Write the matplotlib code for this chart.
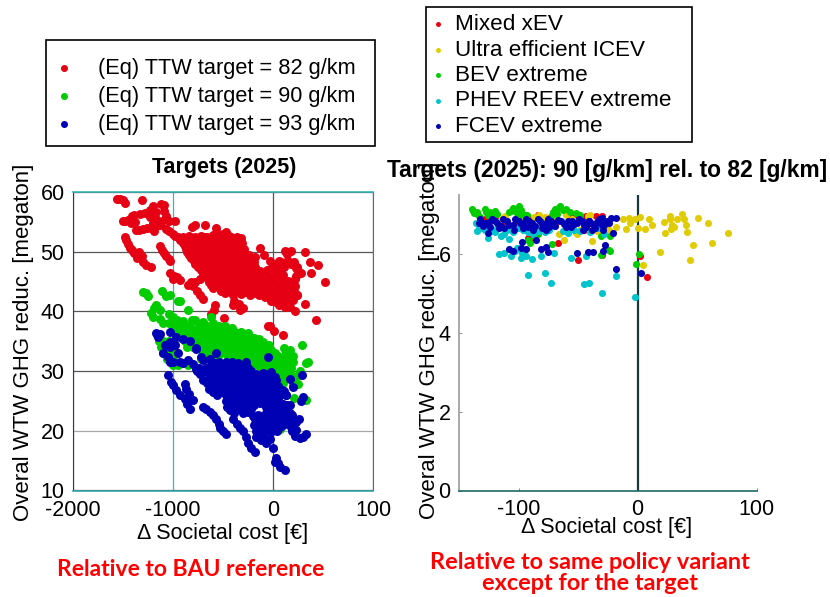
import numpy as np
import matplotlib
matplotlib.use('Agg')
import matplotlib.pyplot as plt
from matplotlib.patches import Rectangle

plt.rcParams['font.family'] = ['Liberation Sans', 'DejaVu Sans']
plt.rcParams['axes.unicode_minus'] = False

W, H = 830, 597

# left panel: (societal cost, ghg reduction)
pts_82 = [
    (-1560,58.8),(-1530,58.8),(-1500,58.6),(-1480,58.2),(-1310,58.7),(-1200,57.6),(-1120,58),(-1090,57.8),(-1090,56.8),
    (-1070,56),(-1170,56.7),(-1230,57),(-1280,56.5),(-1330,56.3),(-1390,56.2),(-1410,56),(-1480,55.2),(-1500,55.2),
    (-1450,55.3),(-1420,54.8),(-1380,55),(-1230,55.8),(-1170,55.5),(-1110,55.2),(-1040,55.2),(-980,55.2),(-1200,54.8),
    (-1170,54.3),(-1130,54.5),(-1070,53.8),(-1040,53.5),(-1300,53.8),(-1260,53.9),(-1220,53.9),(-1190,53.5),(-1370,53.6),
    (-1340,53.7),(-1000,53),(-980,52.6),(-950,52.4),(-900,52.3),(-1480,52.5),(-1470,52),(-1450,51.3),(-1430,50.6),
    (-1410,50.3),(-1390,49.7),(-1360,49),(-1320,49),(-1300,48.3),(-1270,47.7),(-1220,47.5),(-1130,51),(-1110,50.3),
    (-1090,49.8),(-1070,49.3),(-1040,48.7),(-1030,48.5),(-1340,49.9),(-1310,49.2),(-1030,46.5),(-990,46),(-960,45.8),
    (-930,45.2),(-1000,45.5),(-850,44.5),(-800,44.2),(-760,43.5),(-730,42.8),(-700,42),(-820,45),(-780,45),(-730,45.5),
    (-783,54.4),(-683,54.4),(-810,54.2),(-567,53.9),(-467,53.3),(-317,52.3),(-560,53.2),(-500,52.9),(-440,52.6),
    (-930,52),(-860,51.8),(-800,52.2),(-740,52.1),(-680,52.4),(-620,52),(-560,52.3),(-500,51.9),(-440,52.2),(-380,51.8),(-330,51.9),
    (-880,51),(-820,50.8),(-760,51.2),(-700,50.9),(-640,51.1),(-580,50.8),(-520,51.2),(-460,50.9),(-400,51.1),(-340,50.8),
    (-860,49.9),(-800,50.1),(-740,49.8),(-680,50.2),(-620,49.9),(-560,50.1),(-500,49.8),(-440,50.2),(-380,49.9),(-320,50),(-270,49.6),
    (-820,49),(-760,48.8),(-700,49.2),(-640,48.9),(-580,49.1),(-520,48.8),(-460,49.2),(-400,48.9),(-340,49.1),(-280,48.8),(-210,48.6),
    (-780,48),(-720,48.2),(-660,47.8),(-600,48.1),(-540,47.9),(-480,48.2),(-420,47.8),(-360,48.1),(-300,47.9),(-240,48),(-180,47.4),
    (-720,47),(-660,46.8),(-600,47.2),(-540,46.9),(-480,47.1),(-420,46.8),(-360,47.2),(-300,46.9),(-240,47.1),(-190,46.5),(-130,46.8),
    (-680,46),(-620,46.2),(-560,45.8),(-500,46.1),(-440,45.9),(-380,46.2),(-320,45.8),(-250,45.2),(-160,45.5),(-100,45.2),
    (-640,45),(-580,45.2),(-520,44.8),(-460,45.1),(-400,44.8),(-340,45),(-250,44.4),(-200,44.8),(-150,44.4),(-100,44.2),(-50,43.9),
    (-600,44),(-540,44.2),(-500,43.9),(-430,44.2),(-370,43.9),(-300,43.5),(-240,44),(-180,43.8),(-120,43.3),(-60,43.2),(0,43.4),
    (-480,43),(-400,42.8),(-320,42.9),(-200,43),(-140,42.7),(-80,42.4),(-20,42.6),(40,42.5),(100,42.3),
    (-30,48.4),(30,48),(80,48.2),(130,48.2),(180,47.9),(240,47.4),(-60,47),(0,47.3),(50,47),(230,47.2),(250,46.8),
    (-40,46),(20,46.2),(60,46.3),(100,46.1),(230,46),(280,46.5),(-30,45),(30,45.4),(80,45),(150,45.1),(220,45.4),
    (30,44),(90,44.2),(170,44.1),(220,44.3),(60,43.1),(120,43.1),(190,43.2),(240,42.8),(-20,41.8),(30,41.5),(100,41.3),
    (160,42),(200,41.9),(60,41),(120,40.7),(170,40.8),(223,40),(320,41.3),(243,42.8),
    (-390,41.8),(-340,41.2),(-300,40.5),(-400,41),(-330,40.2),(-230,42.8),
    (523,44.9),(450,47.7),(377,46.4),(367,48.3),(317,49.9),(117,50.2),(135,49.6),(183,50.1),(150,50),(-127,50.7),(-90,49.4),
    (-580,41),(-590,40.3),(-620,39.5),(-490,38.9),(-50,37.5),(-30,37.5),(10,36.7),(100,36),(433,38.6),
]
pts_82_dense = [
    (-900,52.5),(-840,52.6),(-780,52.4),(-720,52.7),(-660,52.5),(-600,52.8),(-540,52.5),(-480,52.6),(-420,52.4),(-360,52.5),
    (-900,51.5),(-850,51.6),(-790,51.5),(-730,51.4),(-670,51.6),(-610,51.5),(-550,51.6),(-490,51.4),(-430,51.6),(-370,51.4),(-310,51.5),
    (-870,50.5),(-830,50.4),(-770,50.6),(-710,50.4),(-650,50.6),(-590,50.5),(-530,50.4),(-470,50.6),(-410,50.4),(-350,50.5),(-290,50.4),
    (-840,49.5),(-780,49.4),(-720,49.6),(-660,49.4),(-600,49.6),(-540,49.5),(-480,49.4),(-420,49.6),(-360,49.4),(-300,49.5),(-240,49.5),(-180,49.1),
    (-790,48.5),(-730,48.6),(-670,48.4),(-610,48.6),(-550,48.4),(-490,48.5),(-430,48.6),(-370,48.4),(-310,48.6),(-250,48.4),(-190,48.3),
    (-750,47.5),(-690,47.4),(-630,47.6),(-570,47.4),(-510,47.6),(-450,47.5),(-390,47.4),(-330,47.6),(-270,47.4),(-210,47.5),
    (-700,46.5),(-640,46.4),(-580,46.6),(-520,46.4),(-460,46.6),(-400,46.5),(-340,46.4),(-280,46.6),(-220,46.4),(-160,46.2),(-100,46.4),
    (-650,45.5),(-590,45.6),(-530,45.4),(-470,45.6),(-410,45.4),(-350,45.5),(-290,45.6),(-230,45.5),(-120,44.9),(-70,44.6),
    (-620,44.5),(-560,44.6),(-480,44.5),(-420,44.6),(-360,44.4),(-300,44.6),(-220,44.3),(-130,43.9),(-80,43.8),(-30,43.6),
    (-520,43.5),(-450,43.6),(-380,43.4),(-280,43.2),(-160,43.3),(-90,43.1),(-30,42.9),(30,43),
    (-10,47.5),(40,47.5),(60,48.5),(110,47.5),(150,48.5),(210,48.3),(-20,45.5),(40,44.8),(120,44.5),(190,44.7),
    (30,43),(150,43.5),(210,43.5),(70,42.2),(130,41.8),
]
pts_90 = [
    (-1300,43.2),(-1270,43),(-1250,42.6),(-1110,43.4),(-1030,42.7),(-1070,42.5),(-950,41.8),(-930,41.7),(-1170,41.1),
    (-1190,40.5),(-1130,40.3),(-1220,39.7),(-1200,39),(-1130,38.7),(-1100,38),(-1040,39.5),(-1000,39),(-960,38.5),
    (-900,38.4),(-850,40.3),(-810,38.5),(-1040,38),(-780,38.5),(-620,39),(-700,38.2),
    (-1000,37),(-940,37.2),(-880,36.9),(-820,37.2),(-760,36.9),(-700,37.2),(-640,37),(-580,37.3),(-520,37),(-460,37.2),(-410,37.3),
    (-1160,36),(-960,36),(-900,36.2),(-840,35.9),(-780,36.1),(-720,35.9),(-660,36.2),(-600,35.9),(-540,36.1),(-480,35.9),(-420,36.1),(-360,35.9),(-300,36.1),(-240,35.8),(-190,35.6),
    (-1140,35),(-1100,35),(-1040,35.1),(-880,35),(-820,35.2),(-760,34.9),(-700,35.1),(-640,34.9),(-580,35.1),(-520,34.9),(-460,35.1),(-400,34.9),(-340,35.1),(-280,34.9),(-220,35.1),(-160,35),(-100,34.9),
    (-1120,34),(-1080,34),(-1020,34.1),(-860,34),(-800,34.1),(-740,33.9),(-680,34.1),(-620,33.9),(-560,34.1),(-500,33.9),(-440,34.1),(-380,33.9),(-320,34.1),(-260,33.9),(-200,34.1),(-140,34),(-40,34.3),
    (-1100,33),(-1040,33),(-980,33),(-700,33),(-640,32.9),(-580,33.1),(-520,33),(-460,33.1),(-400,32.9),(-340,33.1),(-280,32.9),(-220,33.1),(-160,33),(-100,32.9),(-40,33.1),(20,33),(110,33.8),(130,33.2),(170,33.5),(200,32.6),(290,34.3),
    (-1060,32),(-1000,32),(-720,32),(-650,32),(-400,32),(-340,32.1),(-280,31.9),(-220,32.1),(-160,31.9),(-100,32),(-40,32),(30,32.1),(90,32.2),(150,31.9),
    (-1000,31),(-950,31),(-850,31),(-280,31),(-200,31.1),(-140,30.9),(-80,31),(-20,31.1),(40,30.9),(100,31),(160,31.1),(350,31.6),(330,31.4),(200,31.5),
    (-100,30),(-30,30),(30,30.1),(90,29.9),(150,30),(270,30),(20,29),(80,29.1),(140,28.9),(200,28.5),(100,28),(200,27.9),(250,27.9),
    (210,25.5),(330,25.2),(-210,24.3),(70,20.3),(-270,25),(-280,24),(0,21),
]
pts_90_dense = [
    (-960,37.5),(-860,37.6),(-740,37.5),(-680,37.7),(-600,38),(-540,37.5),(-480,37.6),
    (-980,36.5),(-920,36.6),(-860,36.4),(-800,36.6),(-740,36.4),(-680,36.6),(-620,36.5),(-560,36.6),(-500,36.4),(-440,36.6),(-380,36.5),(-320,36.5),(-250,36.3),
    (-920,35.5),(-860,35.6),(-800,35.4),(-740,35.6),(-680,35.4),(-620,35.6),(-560,35.5),(-500,35.4),(-440,35.6),(-380,35.4),(-320,35.6),(-260,35.4),(-200,35.6),(-140,35.4),
    (-1110,34.5),(-1060,34.5),(-840,34.6),(-780,34.4),(-720,34.6),(-660,34.4),(-600,34.6),(-540,34.5),(-480,34.4),(-420,34.6),(-360,34.4),(-300,34.6),(-240,34.4),(-180,34.6),(-120,34.4),(-70,34.2),
    (-1070,33.5),(-1000,33.5),(-680,33.6),(-620,33.4),(-560,33.6),(-500,33.5),(-440,33.4),(-380,33.6),(-320,33.4),(-260,33.6),(-200,33.4),(-140,33.6),(-80,33.5),(-20,33.6),
    (-650,32.5),(-550,32.5),(-450,32.5),(-370,32.6),(-310,32.4),(-250,32.6),(-190,32.4),(-130,32.6),(-70,32.4),(-10,32.5),(50,32.6),(110,32.4),
    (-250,31.5),(-170,31.5),(-110,31.5),(-50,31.4),(10,31.6),(70,31.5),(130,31.5),
    (-60,30.5),(0,30.5),(60,30.6),(120,30.4),(180,30.6),(0,29.5),(60,29.5),(120,29.6),(180,29.4),(240,29.2),
]
pts_93 = [
    (-1167,36.4),(-1133,36.2),(-1150,35.7),(-1033,36.5),(-967,35.7),(-1033,34.9),(-1083,34.3),(-900,35.4),(-833,35.1),(-767,33.7),
    (-1100,33),(-1033,34.1),(-983,34.4),(-950,33),(-1033,31.6),(-933,31.6),(-850,31.8),(-767,33.8),(-717,32.4),(-567,33.1),
    (-633,32.1),(-767,30.4),(-700,28.5),(-583,31.3),(-1050,32.4),(-1000,31.5),(-900,31.4),(-800,31.2),
    (-1050,29.3),(-1017,28.2),(-1000,27.6),(-967,26.8),(-933,26),(-883,25.4),(-833,23.7),(-860,24.5),(-883,27.9),(-870,27),(-840,26.2),(-800,25.1),
    (-700,24),(-670,23.7),(-633,23.2),(-600,22.6),(-567,22),(-540,21.2),(-533,20.4),(-500,20),(-467,19.4),(-400,22),(-360,21.2),(-330,20.5),(-300,20),(-270,19),(-250,17.9),(-220,17.2),(-183,16.5),
    (-167,19),(-120,18.4),(-67,17.9),(0,17.2),(33,15.4),(17,14.8),(50,14.6),(117,13.4),(67,14),
    (-620,31),(-560,31.1),(-500,30.9),(-440,31),(-390,31.2),(-330,30.9),(-270,31.5),
    (-760,30),(-700,30.1),(-640,29.9),(-580,30),(-520,30.2),(-460,29.9),(-400,30.1),(-340,29.9),(-280,30.1),(-220,30),
    (-620,29),(-560,29.1),(-500,28.9),(-440,29.1),(-380,28.9),(-320,29.1),(-260,28.9),(-200,29.1),(-130,29),(-70,29.2),(-10,29),
    (-660,28),(-600,28.1),(-540,27.9),(-480,28.1),(-420,27.9),(-360,28.1),(-300,27.9),(-240,28.1),(-180,27.9),(-120,28.1),(-60,27.9),
    (-640,27),(-580,27.1),(-520,26.9),(-460,27.1),(-400,26.9),(-340,27.1),(-280,26.9),(-220,27.1),(-160,26.9),(-100,27.1),(-40,27),(20,27.1),(90,26.9),
    (-560,26),(-470,26),(-410,26.1),(-350,25.9),(-290,26.1),(-230,25.9),(-170,26.1),(-110,25.9),(-50,26.1),(10,26),(70,26),(130,26),
    (-470,25),(-400,25.1),(-340,24.9),(-280,25.1),(-220,24.9),(-160,25.1),(-100,24.9),(-40,25.1),(20,24.8),
    (-460,24),(-400,24.1),(-340,23.9),(-280,24.1),(-70,24),(-20,24.2),(90,24),(120,23.8),(167,24.3),
    (-390,23),(-300,23),(-250,23.1),(-70,23),(-10,23.1),(50,22.9),(100,23.1),(170,23),
    (-180,22),(-130,22.1),(-70,21.9),(-10,22.1),(50,21.9),(100,22),(170,22.2),(260,22),
    (-190,21),(-130,21.1),(-70,20.9),(-10,21.1),(40,20.9),(100,21),(200,21),(180,20.6),
    (-170,20),(-110,20.1),(-60,19.9),(-10,20),(40,20),(190,20),(230,20.2),
    (-140,19),(-100,19.1),(-30,18.7),(220,19.2),(270,18.8),(300,18.9),(330,19.5),
    (167,28.6),(200,27.3),(290,29.3),(300,25.7),(283,25),(-50,32.3),(-17,29.9),(17,29),(133,26),
]
pts_93_dense = [
    (-700,31.8),(-540,31.6),(-470,31.5),(-410,31.6),(-350,31.4),
    (-740,30.5),(-670,30.6),(-610,30.4),(-550,30.6),(-490,30.5),(-430,30.4),(-370,30.6),(-310,30.4),(-250,30.5),
    (-730,29.5),(-650,29.6),(-590,29.4),(-530,29.6),(-470,29.5),(-410,29.4),(-350,29.6),(-290,29.4),(-230,29.6),(-170,29.5),(-100,29.6),(-40,29.5),
    (-640,28.5),(-570,28.6),(-510,28.4),(-450,28.6),(-390,28.5),(-330,28.4),(-270,28.6),(-210,28.4),(-150,28.6),(-90,28.5),(-30,28.4),(30,28.5),
    (-620,27.5),(-550,27.6),(-490,27.4),(-430,27.6),(-370,27.5),(-310,27.4),(-250,27.6),(-190,27.4),(-130,27.6),(-70,27.5),(-10,27.4),(50,27.5),
    (-600,26.5),(-500,26.5),(-430,26.6),(-370,26.4),(-310,26.6),(-250,26.4),(-190,26.6),(-130,26.5),(-70,26.4),(-10,26.6),(50,26.5),(110,26.6),
    (-440,25.5),(-370,25.6),(-310,25.4),(-250,25.6),(-190,25.4),(-130,25.6),(-70,25.5),(-10,25.4),(50,25.5),
    (-430,24.5),(-370,24.6),(-310,24.4),(-250,24.6),(-190,24.4),(-130,24.6),(-60,24.5),(30,24.5),(100,24.5),(140,24.4),
    (-430,23.5),(-350,23.6),(-270,23.5),(-220,23.6),(-40,23.5),(20,23.6),(70,23.4),(130,23.5),
    (-200,22.5),(-150,22.6),(-100,22.4),(-40,22.6),(20,22.4),(70,22.6),(130,22.5),(190,22.6),
    (-160,21.5),(-100,21.6),(-40,21.4),(20,21.6),(70,21.4),(130,21.5),(230,21.4),
    (-140,20.5),(-80,20.6),(-30,20.4),(20,20.5),(70,20.6),(190,20.5),
]

# right panel, one list per technology
pts_mixed = [
    (-128,6.9),(-120,6.95),(-112,6.85),(-100,6.8),(-92,6.95),(-84,6.98),(-75,6.92),(-66,6.85),(-55,6.95),(-50,6.98),
    (-43,6.97),(-40,6.8),(-35,6.97),(-30,6.97),(-45,6.6),(-52,6.55),(-92,6.4),(-67,6.27),(-50,5.86),(-30,5.98),(2,5.95),(8,5.41),(-91,6.37),
]
pts_icev = [
    (-111,6.97),(-114,6.9),(-83,6.98),(-87,6.95),(-66,6.5),(-62,6.37),(-38,6.33),(-51,6.5),(-42,6.97),(-39.5,6.98),(-34,6.58),
    (-25.5,6.63),(-70,6.95),(-55,6.9),(-48,6.6),(-30,6.9),(-24,6.6),(-18,6.68),(-95,6.92),(-78,6.95),(-60,6.98),
    (-12,6.88),(-7,6.92),(-2,6.9),(2,6.95),(-10,6.64),(-6,6.78),(0,6.67),(6,6.64),(10,6.88),(12,6.74),(22,6.82),(23,6.53),
    (27,6.88),(27,6.97),(33,6.9),(37,7.03),(39,6.88),(41,6.74),(28,6.63),(31,6.68),(29,6.75),(42,6.57),(51,6.91),(59,6.8),
    (76,6.53),(63,6.29),(47,6.22),(19,6.06),(44,5.86),(5,5.73),
]
pts_bev = [
    (-139,7.14),(-137,7.05),(-134,7),(-128,7.14),(-124,7.07),(-120,7.09),(-105,7.18),(-100,7.22),(-102,7.09),(-99,7),
    (-93,7),(-69,7.14),(-65,7.22),(-60,7.14),(-52,7.05),(-72,7.0),(-126,7.0),(-108,7.08),(-87,6.46),(-90,6.29),(-72,6.25),
    (-31,6.47),(-31,5.98),(-24,6.1),(-23,6.47),(-23,6.09),(1,6),(-1,5.74),(-84,6.5),(-92,6.35),
    (-138,7.1),(-135,7.08),(-132,6.95),(-127,7.08),(-122,7.02),(-118,7.02),(-106,7.1),(-103,7.15),(-98,7.12),(-101,7.05),
    (-96,7.03),(-71,7.08),(-67,7.18),(-63,7.12),(-68,7.03),(-57,7.08),(-48,7.0),
]
pts_phev = [
    (-136,6.8),(-135,6.58),(-131,6.67),(-126,6.42),(-123.5,6.58),(-115,6.46),(-108,6.39),(-116.5,6),(-112,6.02),(-106,5.95),
    (-101,6.16),(-97,6.03),(-94,5.95),(-88.5,5.88),(-98,5.9),(-81.5,5.95),(-70,6.02),(-56,5.89),(-43,5.95),(-92,5.47),(-78,5.53),
    (-73,5.27),(-45,5.25),(-41,5.27),(-30,5.02),(-18,5.45),(-2,4.92),(-125,6.7),(-118,6.65),(-110,6.6),(-100,6.65),(-92,6.55),
    (-85,6.6),(-78,6.55),(-83,6.58),(-70,6.71),(-63,6.58),(-58,6.54),(-48,6.58),(-40,6.55),(-33,6.65),(-28,6.5),
    (-133,6.72),(-128,6.6),(-120,6.55),(-112,6.52),(-105,6.55),(-96,6.6),(-88,6.5),(-74,6.6),(-53,6.6),(-103,6.08),(-95,6.08),
]
pts_fcev = [
    (-132,6.9),(-133,6.8),(-126,6.54),(-128,6.8),(-122,6.88),(-118,6.78),(-113,6.9),(-108,6.75),(-103,6.88),(-98,6.76),
    (-94,6.88),(-89,6.78),(-84,6.9),(-80,6.76),(-75,6.88),(-71,6.78),(-67,6.86),(-62,6.76),(-58,6.84),(-53,6.76),(-49,6.88),
    (-45,6.74),(-41,6.84),(-36,6.76),(-32,6.88),(-28,6.74),(-26,6.85),(-22,6.92),(-18,6.91),(-30,6.92),(-124,6.7),(-116,6.66),
    (-104,6.62),(-96,6.66),(-88,6.62),(-80,6.66),(-38,6.6),(-46,6.62),(-97,6.31),(-85,6.35),(-108,6.12),(-105,6.08),(-98,6.16),
    (-94,6.14),(-81.5,6.14),(-77,6.19),(-75,6.05),(-51,6.02),(-42,6.06),(-37,6.06),(-29,6.08),(-27,6.24),(-77,6.61),(-41,6.84),
    (-18,5.63),(3,5.51),(-21,6.54),(-29,6.6),
    (-130,6.72),(-125,6.82),(-120,6.84),(-115,6.72),(-110,6.84),(-105,6.74),(-100,6.84),(-96,6.76),(-91,6.84),(-86,6.72),
    (-82,6.84),(-77,6.8),(-73,6.84),(-69,6.72),(-64,6.84),(-60,6.7),(-55,6.84),(-51,6.78),(-47,6.84),(-43,6.7),(-39,6.78),
    (-34,6.82),(-30,6.74),(-24,6.8),(-112,6.66),(-92,6.7),(-74,6.7),(-56,6.68),(-36,6.66),
]

left_ticks = [-2000, -1000, 0, 1000]
left_ticklabels = ['-2000', '-1000', '0', '100']
left_yticks = [10, 20, 30, 40, 50, 60]
right_ticks = [-100, 0, 100]
right_yticks = [0, 2, 4, 6]

RED, GREEN, BLUE = '#e60014', '#00cc00', '#0000b4'
YELLOW, CYAN = '#e0cc00', '#00c4cc'


def make_axes(l, r, t, b):
    return fig.add_axes([l / W, 1 - b / H, (r - l) / W, (b - t) / H])


def xy(pts):
    a = np.array(pts, dtype=float)
    return a[:, 0], a[:, 1]


def box(l, r, t, b):
    # legend frame, the slide has more padding than legend() can give on one side
    fig.add_artist(Rectangle((l / W, 1 - b / H), (r - l) / W, (b - t) / H, transform=fig.transFigure,
                             facecolor='white', edgecolor='black', linewidth=1.2, zorder=9))


fig = plt.figure(figsize=(W / 100, H / 100), dpi=100)

# left panel
ax1 = make_axes(73, 373, 192, 490.5)
h_82 = ax1.scatter(*xy(pts_82 + pts_82_dense), s=42, color=RED, linewidths=0, zorder=3)
h_90 = ax1.scatter(*xy(pts_90 + pts_90_dense), s=42, color=GREEN, linewidths=0, zorder=4)
h_93 = ax1.scatter(*xy(pts_93 + pts_93_dense), s=42, color=BLUE, linewidths=0, zorder=5)
ax1.set_xlim(-2000, 1000)
ax1.set_ylim(10, 60)
ax1.set_xticks(left_ticks, left_ticklabels)
ax1.set_yticks(left_yticks)
ax1.tick_params(length=0, labelsize=15.5, pad=7)
ax1.tick_params(axis='y', pad=6)
ax1.grid(True, color='#555555', linewidth=0.9, zorder=0)
ax1.get_xgridlines()[1].set_color('#3fb4b8')
ax1.get_ygridlines()[1].set_color('#a8a8a8')
ax1.set_axisbelow(True)
ax1.spines['top'].set_color('#35b5bb')
ax1.spines['bottom'].set_color('#35a5ab')
ax1.spines['left'].set_color('#30308a')
ax1.spines['right'].set_color('#666680')
ax1.spines['bottom'].set_linewidth(1.2)
ax1.spines['top'].set_linewidth(1.2)

# right panel
ax2 = make_axes(459, 756.5, 195, 490.5)
ax2.axvline(0, color='#163a3a', linewidth=1.6, zorder=2)
h_mixed = ax2.scatter(*xy(pts_mixed), s=26, color=RED, linewidths=0, zorder=3)
h_icev = ax2.scatter(*xy(pts_icev), s=26, color=YELLOW, linewidths=0, zorder=4)
h_bev = ax2.scatter(*xy(pts_bev), s=26, color=GREEN, linewidths=0, zorder=5)
h_phev = ax2.scatter(*xy(pts_phev), s=26, color=CYAN, linewidths=0, zorder=6)
h_fcev = ax2.scatter(*xy(pts_fcev), s=26, color=BLUE, linewidths=0, zorder=7)
ax2.set_xlim(-150, 100)
ax2.set_ylim(0, 7.5)
ax2.set_xticks(right_ticks)
ax2.set_yticks(right_yticks)
ax2.tick_params(direction='in', length=2.5, width=0.6, color='#777777', labelsize=15.5, pad=6)
ax2.spines['top'].set_visible(False)
ax2.spines['right'].set_visible(False)
ax2.spines['left'].set_color('#a8a8a8')
ax2.spines['left'].set_linewidth(1.4)
ax2.spines['bottom'].set_color('#1f6a6a')
ax2.spines['bottom'].set_linewidth(1.2)

# axis texts sit where the slide put them, not where matplotlib would
fig.text(224 / W, 1 - 168 / H, 'Targets (2025)', ha='center', va='center', fontsize=15.5, fontweight='bold', zorder=10)
fig.text(607 / W, 1 - 171 / H, 'Targets (2025): 90 [g/km] rel. to 82 [g/km]', ha='center', va='center',
         fontsize=16.4, fontweight='bold', zorder=10)
fig.text(24 / W, 1 - 342 / H, 'Overal WTW GHG reduc. [megaton]', rotation=90, ha='center', va='center', fontsize=16)
fig.text(429 / W, 1 - 340 / H, 'Overal WTW GHG reduc. [megaton]', rotation=90, ha='center', va='center', fontsize=16)
fig.text(223 / W, 1 - 534 / H, '\u0394 Societal cost [\u20ac]', ha='center', va='center', fontsize=15.5)
fig.text(607 / W, 1 - 528 / H, '\u0394 Societal cost [\u20ac]', ha='center', va='center', fontsize=15.5)

fig.text(191 / W, 1 - 569 / H, 'Relative to BAU reference', ha='center', va='center', color='#ff0000',
         fontsize=16.5, fontweight='bold', family='Lato')
fig.text(590 / W, 1 - 573 / H, 'Relative to same policy variant\nexcept for the target', ha='center', va='center',
         color='#ff0000', fontsize=16.9, fontweight='bold', family='Lato', linespacing=0.95)

# legends
box(46, 375, 40, 146)
box(426, 692, 7, 142)
leg1 = fig.legend([h_82, h_90, h_93],
                  ['(Eq) TTW target = 82 g/km', '(Eq) TTW target = 90 g/km', '(Eq) TTW target = 93 g/km'],
                  loc='upper left', bbox_to_anchor=(53 / W, 1 - 58 / H), borderaxespad=0, fontsize=15.7,
                  frameon=False, labelspacing=0.32, handlelength=1, handletextpad=1.06, borderpad=0,
                  scatterpoints=1, markerscale=0.78)
leg2 = fig.legend([h_mixed, h_icev, h_bev, h_phev, h_fcev],
                  ['Mixed xEV', 'Ultra efficient ICEV', 'BEV extreme', 'PHEV REEV extreme', 'FCEV extreme'],
                  loc='upper left', bbox_to_anchor=(432.5 / W, 1 - 14 / H), borderaxespad=0, fontsize=16.2,
                  frameon=False, labelspacing=0.2, handlelength=0.5, handletextpad=0.51, borderpad=0,
                  scatterpoints=1, markerscale=0.7)
leg1.set_zorder(10)
leg2.set_zorder(10)

fig.savefig('out.png', dpi=100)
